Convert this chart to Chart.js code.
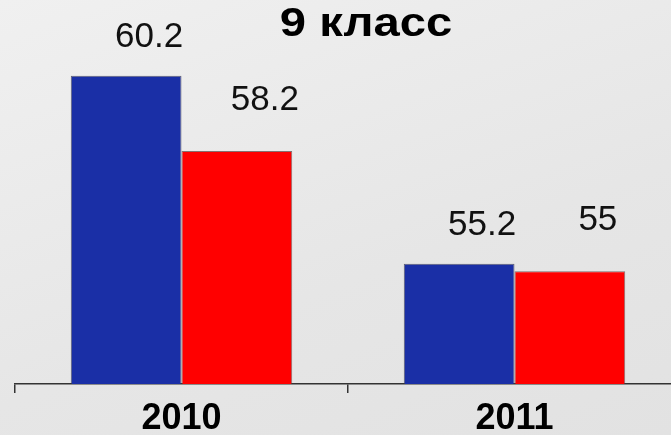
<!DOCTYPE html>
<html>
<head>
<meta charset="utf-8">
<script src="https://cdn.jsdelivr.net/npm/chart.js@4/dist/chart.umd.min.js"></script>
<style>
  html, body { margin: 0; padding: 0; }
  body {
    width: 671px; height: 435px; overflow: hidden;
    background: linear-gradient(160deg, #f0f0f0 0%, #e6e6e6 60%, #e2e2e2 100%);
  }
  #wrap { width: 671px; height: 435px; overflow: hidden; }
</style>
</head>
<body>
<div id="wrap"><canvas id="gradeChart" width="681" height="435"></canvas></div>
<script>
// data
const titleText = '9 класс';
const years = ['2010', '2011'];
const blueValues = [60.2, 55.2];
const redValues = [58.2, 55];
const yMin = 52;
const yMax = 62;

const FONT = '"Liberation Sans", Arial, sans-serif';

// title drawn inside the plot, like the original slide (the slide font is wide)
const titlePlugin = {
  id: 'slideTitle',
  afterDraw(chart) {
    const ctx = chart.ctx;
    ctx.save();
    ctx.translate(366, 25);
    ctx.scale(1.18, 1);
    ctx.font = 'bold 40px ' + FONT;
    ctx.fillStyle = '#000';
    ctx.textAlign = 'center';
    ctx.textBaseline = 'middle';
    ctx.fillText(titleText, 0, 0);
    ctx.restore();
  }
};

// value labels above bars (shifted a bit to the right, as in the picture)
const valueLabels = {
  id: 'valueLabels',
  afterDatasetsDraw(chart) {
    const ctx = chart.ctx;
    const offsets = [{ dx: 23, dy: -38 }, { dx: 28, dy: -51 }];
    ctx.save();
    ctx.font = '35px ' + FONT;
    ctx.fillStyle = '#111';
    ctx.textAlign = 'center';
    ctx.textBaseline = 'middle';
    chart.data.datasets.forEach((ds, i) => {
      const meta = chart.getDatasetMeta(i);
      meta.data.forEach((bar, j) => {
        const o = offsets[i];
        ctx.fillText(String(ds.data[j]), bar.x + o.dx, bar.y + o.dy);
      });
    });
    ctx.restore();
  }
};

new Chart(document.getElementById('gradeChart'), {
  type: 'bar',
  data: {
    labels: years,
    datasets: [
      {
        data: blueValues,
        backgroundColor: '#1a2fa6',
        borderColor: 'rgba(60,60,80,0.8)',
        borderWidth: 1,
        barPercentage: 1.0,
        categoryPercentage: 0.665
      },
      {
        data: redValues,
        backgroundColor: '#ff0000',
        borderColor: 'rgba(90,60,60,0.7)',
        borderWidth: 1,
        barPercentage: 1.0,
        categoryPercentage: 0.665
      }
    ]
  },
  options: {
    responsive: false,
    animation: false,
    layout: { padding: { left: 15, right: 0, top: 8, bottom: 0 } },
    plugins: {
      legend: { display: false },
      tooltip: { enabled: false },
      title: { display: false }
    },
    scales: {
      x: {
        grid: {
          offset: true,
          drawOnChartArea: false,
          drawTicks: true,
          tickLength: 9,
          color: '#333',
          lineWidth: 1.5
        },
        border: { display: true, color: '#333', width: 1.5 },
        ticks: {
          color: '#000',
          font: { family: FONT, size: 36, weight: 'bold' },
          padding: 4
        },
        afterFit(scale) { scale.height = 51; }
      },
      y: {
        display: false,
        min: yMin,
        max: yMax
      }
    }
  },
  plugins: [titlePlugin, valueLabels]
});
</script>
</body>
</html>
